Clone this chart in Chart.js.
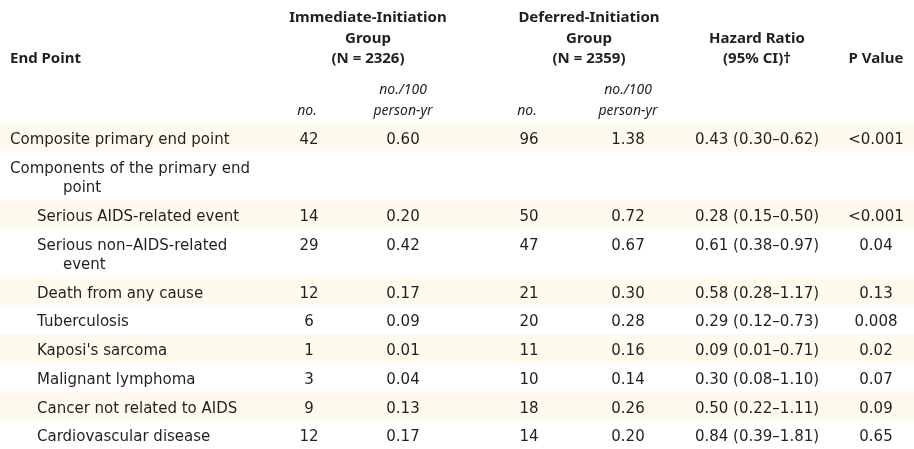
<!DOCTYPE html>
<html>
<head>
<meta charset="utf-8">
<script src="https://cdn.jsdelivr.net/npm/chart.js@4.4.0/dist/chart.umd.min.js"></script>
<style>
  html, body { margin: 0; padding: 0; background: #ffffff; }
  #wrap { width: 914px; height: 449px; }
</style>
</head>
<body>
<div id="wrap"><canvas id="c" width="914" height="449"></canvas></div>
<script>
// ---------------- DATA ----------------
const endPoints = [
  'Composite primary end point',
  'Components of the primary end point',
  'Serious AIDS-related event',
  'Serious non\u2013AIDS-related event',
  'Death from any cause',
  'Tuberculosis',
  "Kaposi's sarcoma",
  'Malignant lymphoma',
  'Cancer not related to AIDS',
  'Cardiovascular disease'
];
const indentLevel = [0, 0, 1, 1, 1, 1, 1, 1, 1, 1];
const immediateNo   = [42, null, 14, 29, 12, 6, 1, 3, 9, 12];
const immediateRate = [0.60, null, 0.20, 0.42, 0.17, 0.09, 0.01, 0.04, 0.13, 0.17];
const deferredNo    = [96, null, 50, 47, 21, 20, 11, 10, 18, 14];
const deferredRate  = [1.38, null, 0.72, 0.67, 0.30, 0.28, 0.16, 0.14, 0.26, 0.20];
const hazardRatio   = [0.43, null, 0.28, 0.61, 0.58, 0.29, 0.09, 0.30, 0.50, 0.84];
const ciLower       = [0.30, null, 0.15, 0.38, 0.28, 0.12, 0.01, 0.08, 0.22, 0.39];
const ciUpper       = [0.62, null, 0.50, 0.97, 1.17, 0.73, 0.71, 1.10, 1.11, 1.81];
const pValues       = ['<0.001', '', '<0.001', '0.04', '0.13', '0.008', '0.02', '0.07', '0.09', '0.65'];
const groupTitles   = [['Immediate-Initiation', 'Group'], ['Deferred-Initiation', 'Group']];
const groupN        = [2326, 2359];

// ---------------- STYLE / LAYOUT ----------------
const FAMILY = '"DejaVu Sans", sans-serif';
const BODY_FONT = '15px ' + FAMILY;
const HEAD_FONT = 'bold 15px "Noto Sans", "DejaVu Sans", sans-serif';
const SUB_FONT = 'italic 14px "Noto Sans", "DejaVu Sans", sans-serif';
const TEXT_COLOR = '#231f20';
const BAND_COLOR = '#fffaee';

const HEADER_H = 123, ROW_H = 28.75, LINE_H = 19.25, FIRST_BASE = 21;
const COL = { label: 10, indent: 37, cont: 63, immNo: 309, immRate: 403, defNo: 529, defRate: 628,
              hr: 757, p: 876, immGroup: 368, defGroup: 589 };
const LABEL_RIGHT = 265;
const HEAD_BASE = { l1: 22, l2: 43, l3: 63, sub1: 94, sub2: 115 };

// wrap labels into lines
const mctx = document.createElement('canvas').getContext('2d');
mctx.font = BODY_FONT;
function wrapLabel(text, x0, xc) {
  const words = text.split(' ');
  const lines = [];
  let cur = '', x = x0;
  for (const w of words) {
    const test = cur ? cur + ' ' + w : w;
    if (cur && x + mctx.measureText(test).width > LABEL_RIGHT) {
      lines.push({ t: cur, x: x });
      cur = w; x = xc;
    } else cur = test;
  }
  lines.push({ t: cur, x: x });
  return lines;
}
const labelLines = endPoints.map((s, i) => wrapLabel(s, indentLevel[i] ? COL.indent : COL.label, COL.cont));

// row geometry in y-scale units
const rowTop = [];
const rowHeight = [];
let acc = HEADER_H;
labelLines.forEach((lines) => {
  rowTop.push(acc);
  const h = ROW_H + LINE_H * (lines.length - 1);
  rowHeight.push(h);
  acc += h;
});
const TOTAL_H = acc;
const base = (i) => rowTop[i] + FIRST_BASE;

const fmt2 = (v) => v == null ? '' : v.toFixed(2);

// ---------------- DATASETS ----------------
const labelPts = [];
labelLines.forEach((lines, i) => lines.forEach((ln, k) => labelPts.push({ x: ln.x, y: base(i) + k * LINE_H, t: ln.t })));

function col(xKey, values, f) {
  return values.map((v, i) => ({ x: COL[xKey], y: base(i), t: f(v, i) }));
}

const datasets = [
  { label: 'End Point', data: labelPts, font: BODY_FONT, align: 'left' },
  { label: 'Immediate no.', data: col('immNo', immediateNo, v => v == null ? '' : String(v)), font: BODY_FONT, align: 'center' },
  { label: 'Immediate rate', data: col('immRate', immediateRate, fmt2), font: BODY_FONT, align: 'center' },
  { label: 'Deferred no.', data: col('defNo', deferredNo, v => v == null ? '' : String(v)), font: BODY_FONT, align: 'center' },
  { label: 'Deferred rate', data: col('defRate', deferredRate, fmt2), font: BODY_FONT, align: 'center' },
  { label: 'Hazard ratio', data: col('hr', hazardRatio, (v, i) => v == null ? '' : fmt2(v) + ' (' + fmt2(ciLower[i]) + '\u2013' + fmt2(ciUpper[i]) + ')'), font: BODY_FONT, align: 'center' },
  { label: 'P value', data: col('p', pValues, v => v), font: BODY_FONT, align: 'center' },
  // header cells
  { label: 'header', font: HEAD_FONT, align: 'center', data: [
      { x: COL.label, y: HEAD_BASE.l3, t: 'End Point', align: 'left' },
      { x: COL.immGroup, y: HEAD_BASE.l1, t: groupTitles[0][0] },
      { x: COL.immGroup, y: HEAD_BASE.l2, t: groupTitles[0][1] },
      { x: COL.immGroup, y: HEAD_BASE.l3, t: '(N = ' + groupN[0] + ')' },
      { x: COL.defGroup, y: HEAD_BASE.l1, t: groupTitles[1][0] },
      { x: COL.defGroup, y: HEAD_BASE.l2, t: groupTitles[1][1] },
      { x: COL.defGroup, y: HEAD_BASE.l3, t: '(N = ' + groupN[1] + ')' },
      { x: COL.hr, y: HEAD_BASE.l2, t: 'Hazard Ratio' },
      { x: COL.hr, y: HEAD_BASE.l3, t: '(95% CI)\u2020' },
      { x: COL.p, y: HEAD_BASE.l3, t: 'P Value' }
  ]},
  { label: 'subheader', font: SUB_FONT, align: 'center', data: [
      { x: COL.immNo - 2, y: HEAD_BASE.sub2, t: 'no.' },
      { x: COL.immRate, y: HEAD_BASE.sub1, t: 'no./100' },
      { x: COL.immRate, y: HEAD_BASE.sub2, t: 'person-yr' },
      { x: COL.defNo - 2, y: HEAD_BASE.sub2, t: 'no.' },
      { x: COL.defRate, y: HEAD_BASE.sub1, t: 'no./100' },
      { x: COL.defRate, y: HEAD_BASE.sub2, t: 'person-yr' }
  ]}
];
datasets.forEach(d => { d.pointRadius = 0; d.pointHoverRadius = 0; d.showLine = false; });

// ---------------- PLUGINS ----------------
const bandPlugin = {
  id: 'bands',
  beforeDatasetsDraw(chart) {
    const { ctx, chartArea, scales } = chart;
    ctx.save();
    ctx.fillStyle = BAND_COLOR;
    rowTop.forEach((t, i) => {
      if (i % 2 !== 0) return;
      const y0 = scales.y.getPixelForValue(t);
      const y1 = scales.y.getPixelForValue(t + rowHeight[i]);
      ctx.fillRect(chartArea.left, Math.min(y0, y1), chartArea.right - chartArea.left, Math.abs(y1 - y0));
    });
    ctx.restore();
  }
};

const textPlugin = {
  id: 'cellText',
  afterDatasetsDraw(chart) {
    const ctx = chart.ctx;
    ctx.save();
    ctx.fillStyle = TEXT_COLOR;
    ctx.textBaseline = 'alphabetic';
    chart.data.datasets.forEach((ds, di) => {
      const meta = chart.getDatasetMeta(di);
      meta.data.forEach((el, j) => {
        const raw = ds.data[j];
        if (!raw || !raw.t) return;
        ctx.font = ds.font;
        ctx.textAlign = raw.align || ds.align;
        ctx.fillText(raw.t, el.x, el.y);
      });
    });
    ctx.restore();
  }
};

new Chart(document.getElementById('c').getContext('2d'), {
  type: 'scatter',
  data: { datasets },
  options: {
    responsive: false,
    animation: false,
    events: [],
    layout: { padding: 0 },
    plugins: { legend: { display: false }, tooltip: { enabled: false }, title: { display: false } },
    scales: {
      x: { type: 'linear', display: false, min: 0, max: 914 },
      y: { type: 'linear', display: false, reverse: true, min: 0, max: TOTAL_H }
    }
  },
  plugins: [bandPlugin, textPlugin]
});
</script>
</body>
</html>
